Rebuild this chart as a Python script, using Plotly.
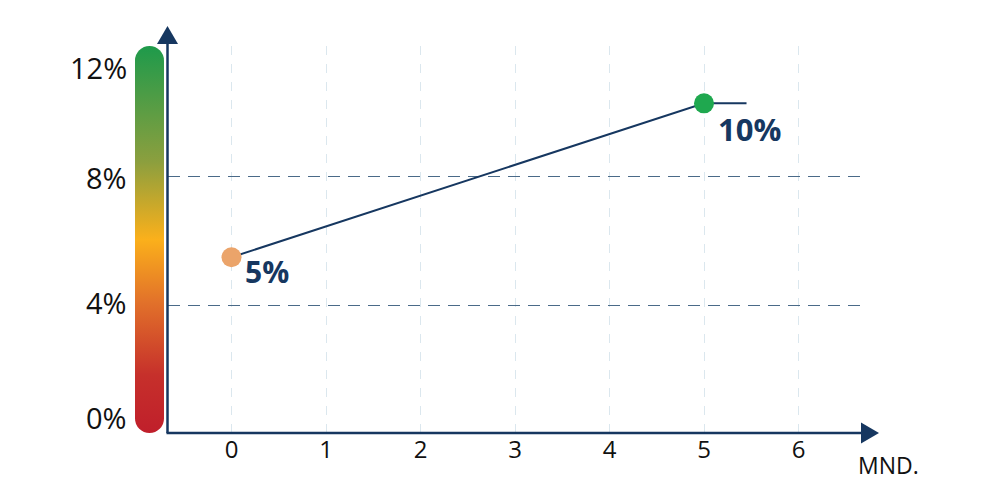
import base64
import plotly.graph_objects as go

# ---------------- data ----------------
months = [0, 5]
rates = [5.5, 10.25]
point_labels = ["5%", "10%"]
point_colors = ["#eba46a", "#1fa84f"]
trend_months = [0, 5, 5.45]
trend_rates = [5.5, 10.25, 10.25]
x_ticks = [0, 1, 2, 3, 4, 5, 6]
y_tick_values = [0, 4, 8, 12]
y_tick_labels = ["0%", "4%", "8%", "12%"]
x_axis_title = "MND."

# ---------------- style ----------------
NAVY = "#163760"
FONT = "Open Sans"
W, H = 1000, 500
L, R, T, B = 168, 138, 46, 67
PW, PH = W - L - R, H - T - B
Y_RANGE = [0.074, 12.02]
X_RANGE = [-0.672, 6.672]


def px(x):
    return (x - L) / PW


def py(y):
    return (H - B - y) / PH


def vy(v):
    return (v - Y_RANGE[0]) / (Y_RANGE[1] - Y_RANGE[0])


fig = go.Figure()

fig.add_trace(go.Scatter(
    x=trend_months, y=trend_rates, mode="lines",
    line=dict(color=NAVY, width=2), hoverinfo="skip", showlegend=False,
))
fig.add_trace(go.Scatter(
    x=months, y=rates, mode="markers",
    marker=dict(size=20, color=point_colors, line=dict(width=0)),
    hoverinfo="skip", showlegend=False,
))

# value labels
label_shifts = [(11, -14), (12, -26)]
label_sizes = [30, 31]
for m, r, t, (dx, dy), s in zip(months, rates, point_labels, label_shifts, label_sizes):
    fig.add_annotation(x=m, y=r, text=f"<b>{t}</b>", showarrow=False,
                       xanchor="left", yanchor="middle", xshift=dx, yshift=dy,
                       font=dict(family=FONT, size=s, color=NAVY))

# y tick labels (custom placed)
y_label_shifts = [18, 3, -1, -21]
for v, t, s in zip(y_tick_values, y_tick_labels, y_label_shifts):
    fig.add_annotation(x=px(129), xref="paper", y=vy(v), yref="paper", text=t,
                       showarrow=False, xanchor="right", yanchor="middle",
                       yshift=s, font=dict(family=FONT, size=29, color="#111111"))

# x axis title
fig.add_annotation(x=px(856), xref="paper", y=py(465), yref="paper",
                   text=x_axis_title, showarrow=False, xanchor="left",
                   yanchor="middle", font=dict(family=FONT, size=23, color="#111111"))

# gradient bar as svg image
svg = (
    '<svg xmlns="http://www.w3.org/2000/svg" width="29" height="387" '
    'viewBox="0 0 29 387" preserveAspectRatio="none">'
    '<defs><linearGradient id="g" x1="0" y1="0" x2="0" y2="1">'
    '<stop offset="0" stop-color="#1e9a4b"/>'
    '<stop offset="0.3" stop-color="#8c9f3e"/>'
    '<stop offset="0.5" stop-color="#fbb01b"/>'
    '<stop offset="0.66" stop-color="#e2722a"/>'
    '<stop offset="0.85" stop-color="#c6302b"/>'
    '<stop offset="1" stop-color="#c01f2b"/>'
    '</linearGradient></defs>'
    '<rect x="0" y="0" width="29" height="387" rx="14.5" ry="14.5" fill="url(#g)"/>'
    '</svg>'
)
src = "data:image/svg+xml;base64," + base64.b64encode(svg.encode()).decode()
fig.add_layout_image(dict(source=src, xref="paper", yref="paper",
                          x=px(135), y=1, sizex=29 / PW, sizey=1,
                          xanchor="left", yanchor="top", sizing="stretch",
                          layer="above"))

# axes lines + arrows
fig.add_shape(type="line", xref="paper", yref="paper",
              x0=px(167.5), y0=py(433), x1=px(167.5), y1=py(43),
              line=dict(color=NAVY, width=2.5))
fig.add_shape(type="line", xref="paper", yref="paper",
              x0=px(166.5), y0=py(433), x1=px(863), y1=py(433),
              line=dict(color=NAVY, width=2.5))
fig.add_shape(type="path", xref="paper", yref="paper",
              path=f"M {px(167.5)} {py(26)} L {px(157)} {py(44)} L {px(178)} {py(44)} Z",
              fillcolor=NAVY, line=dict(width=0))
fig.add_shape(type="path", xref="paper", yref="paper",
              path=f"M {px(879)} {py(433)} L {px(861)} {py(422.5)} L {px(861)} {py(443.5)} Z",
              fillcolor=NAVY, line=dict(width=0))

fig.update_layout(
    width=W, height=H,
    margin=dict(l=L, r=R, t=T, b=B),
    paper_bgcolor="white", plot_bgcolor="white",
    font=dict(family=FONT),
    xaxis=dict(range=X_RANGE, tickvals=x_ticks, showgrid=True,
               gridcolor="#dbe7ee", griddash="dash", gridwidth=1,
               zeroline=False, showline=False, ticks="",
               tickfont=dict(family=FONT, size=24, color="#111111"),
               fixedrange=True),
    yaxis=dict(range=Y_RANGE, tickvals=[4, 8], showgrid=True,
               gridcolor="#4a6a88", griddash="12px,8px", gridwidth=1,
               zeroline=False, showline=False, showticklabels=False,
               ticks="", fixedrange=True),
    showlegend=False,
)

fig.write_html("out.html", config={"displayModeBar": False},
               post_script="document.body.style.margin='0';document.body.style.padding='0';")
